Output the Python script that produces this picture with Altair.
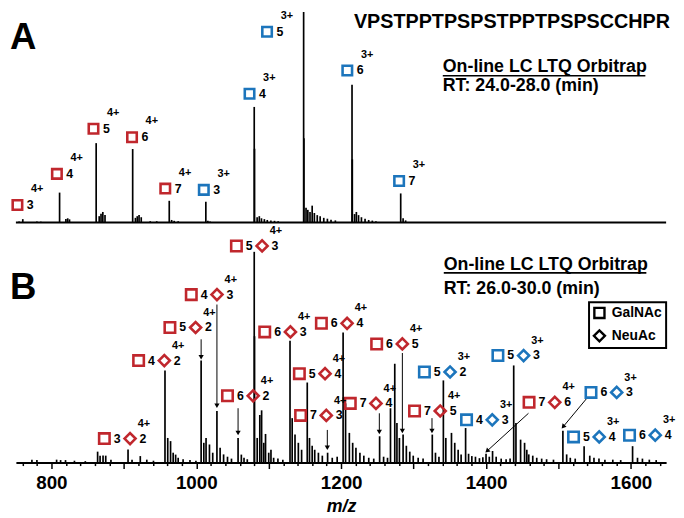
import math
import altair as alt
import pandas as pd

FONT = "Liberation Sans"
RED = "#C0272D"
BLUE = "#1C75BC"

# ---------------- data ----------------
sequence = "VPSTPPTPSPSTPPTPSPSCCHPR"
instrument = "On-line LC LTQ Orbitrap"
rt_windows = ["RT: 24.0-28.0 (min)", "RT: 26.0-30.0 (min)"]
panel_letters = ["A", "B"]
legend_names = ["GalNAc", "NeuAc"]
tick_values = list(range(760, 1641, 20))

# Panel A spectrum (m/z, relative intensity)
a_mz = [755.4, 760.5, 780.0, 785.4, 811.3, 820.0, 822.5, 825.0, 861.8, 866.0,
        868.5, 871.0, 874.0, 912.2, 916.0, 918.5, 921.0, 924.0, 936.4, 945.4,
        962.7, 966.0, 969.5, 975.0, 1013.2, 1016.0, 1019.0, 1080.0, 1080.4, 1084.0,
        1087.0, 1090.0, 1094.0, 1098.0, 1103.0, 1108.0, 1113.0, 1148.2, 1148.6, 1151.5,
        1154.0, 1157.0, 1160.0, 1163.0, 1167.0, 1171.0, 1176.0, 1181.0, 1186.0, 1192.0,
        1215.0, 1215.4, 1218.5, 1221.0, 1224.0, 1228.0, 1233.0, 1238.0, 1243.0, 1248.0,
        1282.2, 1285.5, 1289.0]
a_int = [0.5, 1.6, 0.5, 0.4, 14.2, 1.6, 2.0, 1.5, 37.7, 3.0,
         4.2, 5.0, 3.5, 34.9, 2.2, 3.0, 3.5, 2.5, 0.6, 0.6,
         10.3, 1.2, 0.8, 0.6, 9.9, 0.8, 0.5, 54.9, 35.0, 2.5,
         3.0, 2.0, 1.6, 1.2, 1.0, 0.8, 0.6, 100.0, 40.0, 7.0,
         6.0, 5.0, 8.0, 4.5, 3.5, 3.0, 2.2, 1.8, 1.3, 1.0,
         65.4, 30.0, 4.0, 5.0, 3.5, 2.5, 1.8, 1.2, 0.9, 0.6,
         13.8, 2.0, 1.0]

# Panel B spectrum
b_mz = [773.1, 780.0, 807.2, 812.7, 819.5, 831.8, 846.8, 863.8, 867.2, 871.3,
        875.0, 882.2, 905.8, 911.3, 922.7, 931.7, 940.9, 956.8, 960.6, 964.5,
        968.1, 971.5, 975.0, 981.8, 991.3, 999.5, 1006.7, 1010.4, 1013.5, 1018.2,
        1022.7, 1028.5, 1032.9, 1037.7, 1043.1, 1048.6, 1057.7, 1062.2, 1065.9, 1070.4,
        1080.0, 1080.4, 1084.1, 1087.7, 1090.2, 1093.2, 1095.6, 1100.0, 1103.1, 1106.8,
        1112.7, 1119.5, 1129.4, 1132.4, 1136.3, 1140.9, 1145.4, 1153.2, 1156.3, 1160.0,
        1163.5, 1168.6, 1174.0, 1181.3, 1187.7, 1194.5, 1202.7, 1206.1, 1211.3, 1215.9,
        1220.4, 1225.9, 1231.3, 1238.1, 1245.0, 1253.1, 1258.6, 1264.0, 1268.1, 1274.0,
        1277.0, 1280.4, 1285.5, 1290.0, 1294.7, 1299.5, 1306.3, 1313.1, 1325.8, 1330.2,
        1335.0, 1341.1, 1344.5, 1352.3, 1356.8, 1361.5, 1365.6, 1371.8, 1375.9, 1380.4,
        1385.4, 1390.9, 1395.6, 1400.0, 1404.5, 1409.0, 1414.0, 1420.9, 1427.7, 1433.2,
        1438.2, 1441.3, 1447.7, 1453.2, 1456.3, 1459.0, 1464.5, 1470.0, 1476.8, 1483.6,
        1493.1, 1506.1, 1511.3, 1516.3, 1523.1, 1535.4, 1543.2, 1549.0, 1555.9, 1564.1,
        1575.0, 1585.9, 1602.3, 1609.1, 1615.9, 1625.4, 1634.9]
b_int = [1.4, 1.2, 1.4, 1.2, 1.2, 0.9, 0.7, 5.2, 3.3, 3.4,
         3.3, 1.4, 6.2, 1.4, 3.1, 1.4, 0.9, 43.7, 11.7, 10.2,
         4.7, 3.8, 2.3, 1.6, 1.2, 0.9, 48.4, 9.4, 11.7, 8.6,
         4.7, 24.5, 7.0, 3.9, 2.8, 1.9, 11.7, 3.8, 2.3, 1.6,
         100.0, 60.0, 11.7, 22.6, 24.8, 9.4, 13.6, 4.7, 6.1, 2.3,
         1.9, 1.4, 57.8, 21.1, 13.3, 9.4, 6.1, 38.0, 11.7, 8.0,
         6.1, 4.7, 3.3, 4.7, 2.3, 2.8, 61.7, 28.1, 14.1, 9.4,
         7.0, 4.7, 3.3, 2.3, 1.9, 12.5, 2.8, 2.3, 25.8, 46.9,
         18.8, 11.7, 13.3, 8.0, 5.2, 3.3, 2.3, 1.9, 13.3, 4.7,
         2.8, 39.0, 11.7, 14.1, 9.4, 6.1, 3.8, 16.4, 4.2, 3.1,
         2.8, 2.1, 2.6, 4.2, 2.8, 5.5, 2.8, 1.9, 1.6, 1.9,
         46.1, 18.8, 10.9, 9.4, 6.1, 3.9, 3.3, 2.3, 1.9, 1.6,
         1.4, 15.1, 3.9, 2.3, 1.9, 7.8, 3.3, 2.3, 1.9, 1.4,
         1.4, 1.2, 7.8, 2.3, 1.9, 1.4, 1.2]

# Panel A glycoform labels (anchor m/z, anchor intensity, GalNAc count, charge)
a_lab_mz = [753.1, 807.6, 858.1, 911.3, 957.2, 1010.4, 1073.5, 1097.7, 1208.5, 1280.0]
a_lab_int = [8.3, 23.1, 44.5, 40.5, 16.1, 15.5, 61.2, 90.6, 72.2, 19.7]
a_lab_gal = [3, 4, 5, 6, 7, 3, 4, 5, 6, 7]
a_lab_charge = ["4+", "4+", "4+", "4+", "4+", "3+", "3+", "3+", "3+", "3+"]

# Panel B glycoform labels
b_lab_mz = [873.1, 920.4, 963.6, 993.1, 1055.4, 1043.1, 1094.5, 1172.7, 1142.3, 1144.0,
            1212.6, 1249.0, 1301.3, 1314.9, 1373.1, 1416.4, 1459.4, 1544.9, 1520.8, 1598.1]
b_lab_int = [11.4, 48.4, 64.1, 79.7, 102.8, 31.7, 62.0, 66.1, 42.2, 22.4,
             28.1, 56.3, 24.5, 43.0, 20.3, 50.8, 28.6, 33.3, 12.2, 13.0]
b_lab_gal = [3, 4, 5, 4, 5, 6, 6, 6, 5, 7, 7, 6, 7, 5, 4, 5, 7, 6, 5, 6]
b_lab_neu = [2, 2, 2, 3, 3, 2, 3, 4, 4, 3, 4, 5, 5, 2, 3, 3, 6, 3, 4, 4]
b_lab_charge = ["4+"] * 13 + ["3+", "3+", "3+", "4+", "3+", "3+", "3+"]

# Panel B arrows (start m/z, start intensity, end m/z, end intensity)
arr_x1 = [1006.7, 1028.5, 1057.7, 1180.9, 1252.7, 1284.5, 1325.4, 1458.6, 1539.1]
arr_y1 = [58.5, 75.0, 25.8, 15.5, 23.4, 52.0, 21.1, 23.4, 30.5]
arr_x2 = [1006.7, 1028.5, 1057.7, 1180.9, 1252.7, 1284.5, 1325.4, 1401.4, 1506.4]
arr_y2 = [50.0, 27.0, 14.0, 7.0, 14.5, 15.0, 15.0, 5.5, 17.0]

assert len(a_mz) == len(a_int) and len(b_mz) == len(b_int)

# ---------------- layout ----------------
MZ_MIN, MZ_MAX = 751.0, 1648.6
W, H = 658, 457
A_RANGE = [214, 1]
B_RANGE = [457, 243.7]

XS = alt.Scale(domain=[MZ_MIN, MZ_MAX], nice=False, zero=False)
AX = alt.Axis(
    title="m/z", values=tick_values, format="d",
    labelExpr="datum.value % 200 === 0 ? datum.label : ''",
    labelOverlap=False, labelFlush=False, labelFont=FONT, labelFontSize=19,
    labelFontWeight="bold", labelColor="black", labelPadding=5,
    tickSize={"condition": {"test": "datum.value % 100 === 0", "value": 6}, "value": 3},
    tickWidth=1.5, tickColor="black", domainColor="black", domainWidth=2, grid=False,
    titleFont=FONT, titleFontSize=18, titleFontWeight="bold", titleFontStyle="italic",
    titleColor="black", titlePadding=5,
)
YA = alt.Scale(domain=[0, 100], range=A_RANGE, nice=False, zero=False)
YB = alt.Scale(domain=[0, 100], range=B_RANGE, nice=False, zero=False)
CS = alt.Scale(domain=["4+", "3+"], range=[RED, BLUE])


def xenc(f):
    return alt.X(f"{f}:Q", scale=XS, axis=AX)


def yenc(f, s):
    return alt.Y(f"{f}:Q", scale=s, axis=None)


# ---- Panel A ----
dfA = pd.DataFrame({"mz": a_mz, "inten": a_int, "base": 0.0})
baseA = alt.Chart(pd.DataFrame({"x0": [MZ_MIN], "x1": [MZ_MAX], "base": [0.0]})).mark_rule(
    color="black", strokeWidth=2).encode(x=xenc("x0"), x2="x1:Q", y=yenc("base", YA))
peaksA = alt.Chart(dfA).mark_rule(color="black", strokeWidth=1.7).encode(
    x=xenc("mz"), y=yenc("inten", YA), y2="base:Q")
labA = pd.DataFrame({"mz": a_lab_mz, "inten": a_lab_int, "gal": a_lab_gal, "charge": a_lab_charge})
encA = dict(x=xenc("mz"), y=yenc("inten", YA))
sqA = alt.Chart(labA).mark_point(shape="square", filled=False, size=92, strokeWidth=2.6, opacity=1).encode(
    **encA, color=alt.Color("charge:N", scale=CS, legend=None))
numA = alt.Chart(labA).mark_text(dx=13, font=FONT, fontSize=12.5, fontWeight="bold", color="black").encode(
    **encA, text="gal:N")
chgA = alt.Chart(labA).mark_text(dx=20, dy=-16, font=FONT, fontSize=11, fontWeight="bold", color="black").encode(
    **encA, text="charge:N")
layerA = alt.layer(baseA, peaksA, sqA, numA, chgA)

# ---- Panel B ----
dfB = pd.DataFrame({"mz": b_mz, "inten": b_int, "base": 0.0})
peaksB = alt.Chart(dfB).mark_rule(color="black", strokeWidth=1.7).encode(
    x=xenc("mz"), y=yenc("inten", YB), y2="base:Q")

PX_MZ = W / (MZ_MAX - MZ_MIN)
PX_INT = (B_RANGE[0] - B_RANGE[1]) / 100.0
angles = []
for x1, y1, x2, y2 in zip(arr_x1, arr_y1, arr_x2, arr_y2):
    dx = (x2 - x1) * PX_MZ
    dy = -(y2 - y1) * PX_INT
    angles.append(math.degrees(math.atan2(dx, -dy)) % 360)
arrDF = pd.DataFrame({"x1": arr_x1, "y1": arr_y1, "x2": arr_x2, "y2": arr_y2, "ang": angles})
shafts = alt.Chart(arrDF).mark_rule(color="black", strokeWidth=1).encode(
    x=xenc("x1"), x2="x2:Q", y=yenc("y1", YB), y2="y2:Q")
heads = alt.Chart(arrDF).mark_point(shape="triangle-up", filled=True, size=28, color="black", opacity=1).encode(
    x=xenc("x2"), y=yenc("y2", YB), angle=alt.Angle("ang:Q", scale=None))

labB = pd.DataFrame({"mz": b_lab_mz, "inten": b_lab_int, "gal": b_lab_gal,
                     "neu": b_lab_neu, "charge": b_lab_charge})
encB = dict(x=xenc("mz"), y=yenc("inten", YB))
sqB = alt.Chart(labB).mark_point(shape="square", filled=False, size=112, strokeWidth=2.6, opacity=1).encode(
    **encB, color=alt.Color("charge:N", scale=CS, legend=None))
diaB = alt.Chart(labB).mark_point(shape="diamond", filled=False, size=125, strokeWidth=2.6, opacity=1,
                                  xOffset=26).encode(
    **encB, color=alt.Color("charge:N", scale=CS, legend=None))
galB = alt.Chart(labB).mark_text(dx=13, font=FONT, fontSize=12.5, fontWeight="bold", color="black").encode(
    **encB, text="gal:N")
neuB = alt.Chart(labB).mark_text(dx=39, font=FONT, fontSize=12.5, fontWeight="bold", color="black").encode(
    **encB, text="neu:N")
chgB = alt.Chart(labB).mark_text(dx=40, dy=-15, font=FONT, fontSize=11, fontWeight="bold", color="black").encode(
    **encB, text="charge:N")
layerB = alt.layer(peaksB, shafts, heads, sqB, diaB, galB, neuB, chgB)


# ---- fixed annotations ----
def txt(s, x, y, size, align="left"):
    return alt.Chart(pd.DataFrame({"t": [s]})).mark_text(
        align=align, baseline="middle", font=FONT, fontSize=size, fontWeight="bold", color="black"
    ).encode(x=alt.value(x), y=alt.value(y), text="t:N")


def hline(x0, x1, y, w=1.6):
    return alt.Chart(pd.DataFrame({"t": [0]})).mark_rule(color="black", strokeWidth=w).encode(
        x=alt.value(x0), x2=alt.value(x1), y=alt.value(y))


ann = [
    txt(panel_letters[0], -6, 27, 37),
    txt(panel_letters[1], -6, 280, 37),
    txt(sequence, 502, 11, 20, "center"),
    txt(instrument, 432, 57, 18),
    hline(432, 637, 65.5),
    txt(rt_windows[0], 432, 76, 18),
    txt(instrument, 433, 257, 18),
    hline(433, 638, 265),
    txt(rt_windows[1], 433, 281, 18),
]

legend_box = alt.Chart(pd.DataFrame({"t": [0]})).mark_rect(
    fill="white", stroke="black", strokeWidth=2).encode(
    x=alt.value(580), x2=alt.value(658), y=alt.value(294.7), y2=alt.value(341))
leg_sq = alt.Chart(pd.DataFrame({"t": [0]})).mark_point(
    shape="square", filled=False, size=105, strokeWidth=2.4, color="black", opacity=1).encode(
    x=alt.value(590.5), y=alt.value(305.5))
leg_di = alt.Chart(pd.DataFrame({"t": [0]})).mark_point(
    shape="diamond", filled=False, size=125, strokeWidth=2.4, color="black", opacity=1).encode(
    x=alt.value(590.5), y=alt.value(328.7))
leg_t1 = txt(legend_names[0], 603, 305.5, 14)
leg_t2 = txt(legend_names[1], 603, 328.7, 14)

chart = alt.layer(
    layerA, layerB, *ann, legend_box, leg_sq, leg_di, leg_t1, leg_t2
).resolve_scale(y="independent").properties(
    width=W, height=H,
    autosize=alt.AutoSizeParams(type="none"),
    padding={"left": 8, "top": 0, "right": 10, "bottom": 53},
    background="white",
).configure_view(stroke=None)

chart.save("out.html", embed_options={"renderer": "svg", "actions": False})
